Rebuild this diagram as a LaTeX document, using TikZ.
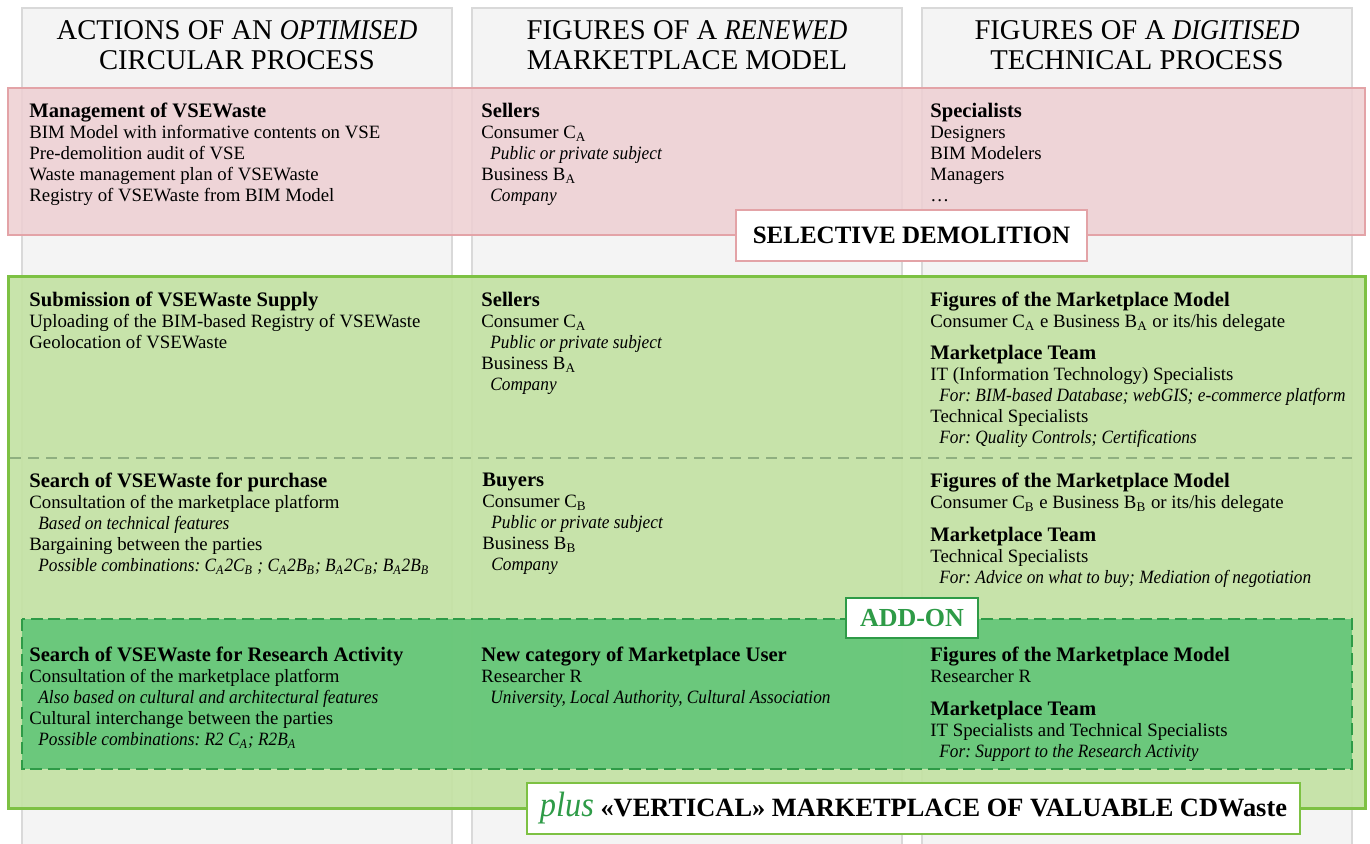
\documentclass[tikz,border=0pt]{standalone}
\usepackage{fontspec}
\setmainfont{Liberation Serif}[ItalicFeatures={FakeStretch=0.92}]
\definecolor{colfill}{HTML}{F4F4F4}
\definecolor{colline}{HTML}{D9D9D9}
\definecolor{redfill}{HTML}{EECFD2}
\definecolor{redline}{HTML}{E3A3A7}
\definecolor{grnfill}{HTML}{C3E2A2}
\definecolor{grnline}{HTML}{7DC143}
\definecolor{dkfill}{HTML}{62C677}
\definecolor{dkline}{HTML}{2E9B47}
\definecolor{sepline}{HTML}{8FAF80}
\newcommand\hd[1]{{\fontsize{10.3}{10.5}\selectfont\bfseries #1}}
\newcommand\sbs[1]{\textsubscript{#1}}
\newcommand\ind{\hspace*{4.5pt}}
\frenchspacing
\tikzset{
  colbox/.style={draw=colline, fill=colfill, line width=1pt},
  hdr/.style={align=center, inner sep=0pt, font=\fontsize{14.3}{15}\selectfont},
  txt/.style={anchor=north west, inner sep=0pt, align=left, font=\fontsize{9.4}{10.5}\selectfont},
  lab/.style={fill=white, line width=1.2pt, inner sep=0pt, font=\fontsize{12.5}{13}\selectfont\bfseries}
}
\begin{document}
\begin{tikzpicture}[x=0.5pt,y=-0.5pt]
\useasboundingbox (0,0) rectangle (1370,843);
\fill[white] (0,0) rectangle (1370,843);
% columns
\draw[colbox] (22,8) rectangle (452,860);
\draw[colbox] (472,8) rectangle (902,860);
\draw[colbox] (922,8) rectangle (1352,860);
% headers
\node[hdr] (h1) at (237,45) {ACTIONS OF AN \textit{OPTIMISED}\\ CIRCULAR PROCESS};
\node[hdr] (h2) at (687,45) {FIGURES OF A \textit{RENEWED}\\ MARKETPLACE MODEL};
\node[hdr] (h3) at (1137,45) {FIGURES OF A \textit{DIGITISED}\\ TECHNICAL PROCESS};
% red band
\draw[draw=redline, fill=redfill, fill opacity=0.85, line width=1.2pt] (8,88) rectangle (1365,235);
% green band
\draw[draw=grnline, fill=grnfill, fill opacity=0.9, line width=1.5pt] (8,276) rectangle (1365,808);
\draw[sepline, line width=0.9pt, dash pattern=on 5.5pt off 3.5pt] (10,458) -- (1352,458);
% add-on band
\draw[draw=dkline, fill=dkfill, fill opacity=0.9, line width=1pt, dash pattern=on 6pt off 2.8pt] (22,619) rectangle (1352,769);
% labels
\node[lab, draw=redline, minimum width=175.5pt, minimum height=25.5pt] (sd) at (911.5,235.5) {SELECTIVE DEMOLITION};
\node[lab, draw=dkline, text=dkline, minimum width=66pt, minimum height=20pt, font=\fontsize{13}{13}\selectfont\bfseries] (addon) at (912,618) {ADD-ON};
\node[lab, draw=grnline, minimum width=386.5pt, minimum height=25.5pt, font=\fontsize{13.2}{14}\selectfont\bfseries] (plus) at (913.5,808.5) {{\fontsize{17.6}{17.6}\selectfont\mdseries\itshape\color{dkline}plus} «VERTICAL» MARKETPLACE OF VALUABLE CDWaste};
% red band texts
\node[txt] (r1) at (29,103) {\hd{Management of VSEWaste}\\ BIM Model with informative contents on VSE\\ Pre-demolition audit of VSE\\ Waste management plan of VSEWaste\\ Registry of VSEWaste from BIM Model};
\node[txt] (r2) at (481,103) {\hd{Sellers}\\ Consumer C\sbs{A}\\ \ind\textit{Public or private subject}\\ Business B\sbs{A}\\ \ind\textit{Company}};
\node[txt] (r3) at (930,103) {\hd{Specialists}\\ Designers\\ BIM Modelers\\ Managers\\ …};
% green band 1
\node[txt] (g1) at (29,292) {\hd{Submission of VSEWaste Supply}\\ Uploading of the BIM-based Registry of VSEWaste\\ Geolocation of VSEWaste};
\node[txt] (g2) at (481,292) {\hd{Sellers}\\ Consumer C\sbs{A}\\ \ind\textit{Public or private subject}\\ Business B\sbs{A}\\ \ind\textit{Company}};
\node[txt] (g3) at (930,292) {\hd{Figures of the Marketplace Model}\\ Consumer C\sbs{A} e Business B\sbs{A} or its/his delegate\\[5.5pt] \hd{Marketplace Team}\\ IT (Information Technology) Specialists\\ \ind\textit{For: BIM-based Database; webGIS; e-commerce platform}\\ Technical Specialists\\ \ind\textit{For: Quality Controls; Certifications}};
% green band 2
\node[txt] (s1) at (29,473) {\hd{Search of VSEWaste for purchase}\\ Consultation of the marketplace platform\\ \ind\textit{Based on technical features}\\ Bargaining between the parties\\ \ind\textit{Possible combinations: C\sbs{A}2C\sbs{B} ; C\sbs{A}2B\sbs{B}; B\sbs{A}2C\sbs{B}; B\sbs{A}2B\sbs{B}}};
\node[txt] (s2) at (482,473) {\hd{Buyers}\\ Consumer C\sbs{B}\\ \ind\textit{Public or private subject}\\ Business B\sbs{B}\\ \ind\textit{Company}};
\node[txt] (s3) at (930,473) {\hd{Figures of the Marketplace Model}\\ Consumer C\sbs{B} e Business B\sbs{B} or its/his delegate\\[6pt] \hd{Marketplace Team}\\ Technical Specialists\\ \ind\textit{For: Advice on what to buy; Mediation of negotiation}};
% add-on band
\node[txt] (a1) at (29,647) {\hd{Search of VSEWaste for Research Activity}\\ Consultation of the marketplace platform\\ \ind\textit{Also based on cultural and architectural features}\\ Cultural interchange between the parties\\ \ind\textit{Possible combinations: R2 C\sbs{A}; R2B\sbs{A}}};
\node[txt] (a2) at (481,647) {\hd{New category of Marketplace User}\\ Researcher R\\ \ind\textit{University, Local Authority, Cultural Association}};
\node[txt] (a3) at (930,647) {\hd{Figures of the Marketplace Model}\\ Researcher R\\[6pt] \hd{Marketplace Team}\\ IT Specialists and Technical Specialists\\ \ind\textit{For: Support to the Research Activity}};
\end{tikzpicture}
\end{document}
